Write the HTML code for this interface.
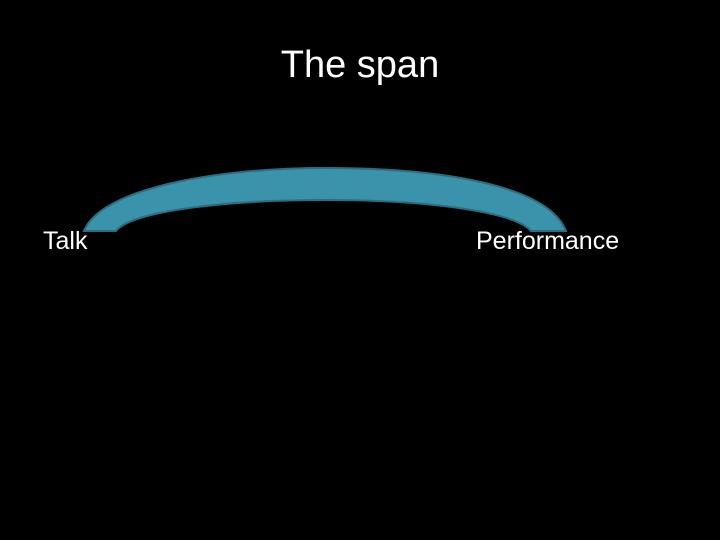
<!DOCTYPE html>
<html><head><style>
html,body{margin:0;padding:0;background:#000;}
body{width:720px;height:540px;position:relative;overflow:hidden;font-family:"Liberation Sans",sans-serif;color:#fff;}
.t{position:absolute;white-space:nowrap;}
</style></head><body>
<svg width="720" height="540" style="position:absolute;left:0;top:0">
<path d="M84,231 C100,190 210,168 325,168 C440,168 548,185 566,231 L531,231 C515,212 430,200 325,200 C220,200 130,212 116,231 Z" fill="#3a93ab" stroke="#2b6e80" stroke-width="2"/>
</svg>
<div class="t" style="left:0;width:720px;text-align:center;top:44px;font-size:38px;">The span</div>
<div class="t" style="left:43px;top:227px;font-size:25px;">Talk</div>
<div class="t" style="left:476px;top:227px;font-size:25px;">Performance</div>
</body></html>
